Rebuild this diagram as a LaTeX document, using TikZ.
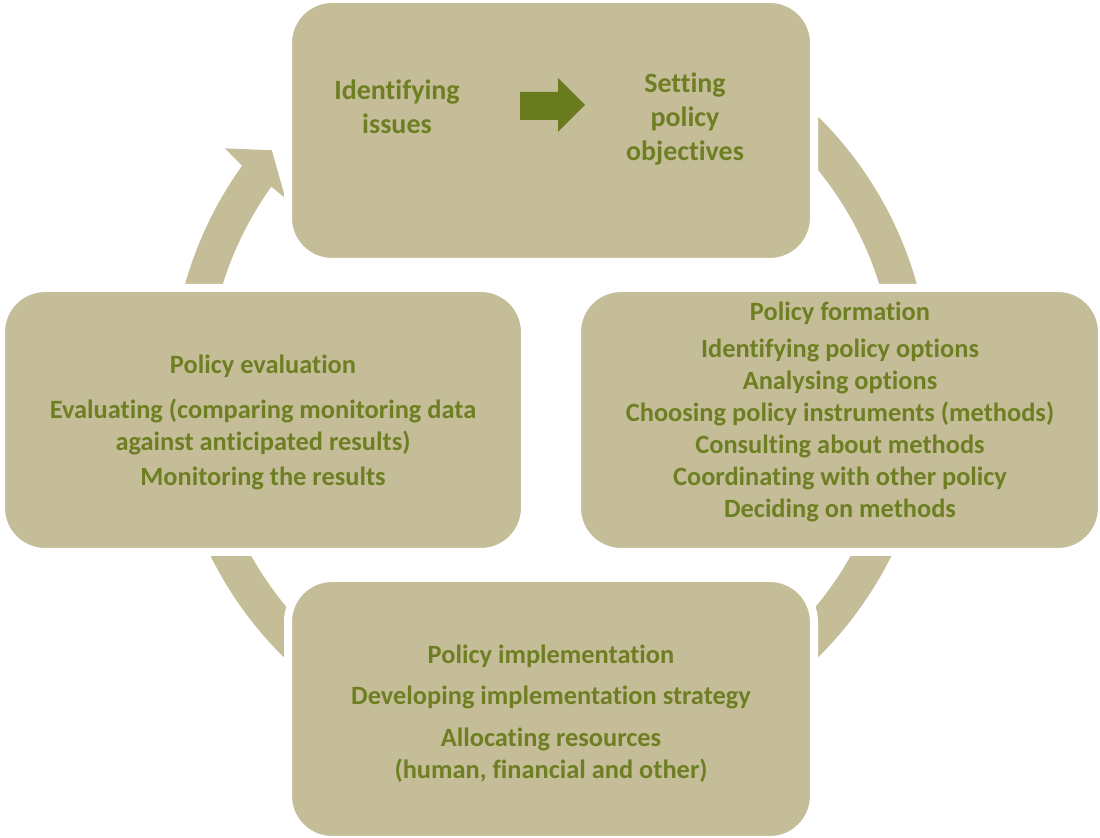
\documentclass[tikz,border=0pt]{standalone}
\usepackage{fontspec}
\setmainfont{Carlito}[RawFeature=-liga, RawFeature=-clig, RawFeature=-calt, RawFeature=-rlig, RawFeature=-dlig]
\usetikzlibrary{positioning}

\definecolor{stagefill}{HTML}{C4BD97}
\definecolor{stagetext}{HTML}{6E7F23}
\definecolor{stagearrow}{HTML}{6A7A1E}

\begin{document}
\begin{tikzpicture}[x=0.5pt, y=0.5pt,
    stage/.style={fill=stagefill, draw=white, line width=4pt, rounded corners=22pt, inner sep=0pt},
    stagelabel/.style={text=stagetext, align=center, font=\bfseries\fontsize{13.2}{16}\selectfont},
    toplabel/.style={stagelabel, font=\bfseries\fontsize{14}{17}\selectfont}]
  \useasboundingbox (0,0) rectangle (1100,838);

  % Cycle arrow, drawn first so the boxes sit on top of it
  \coordinate (hub) at (551,451);
  \fill[stagefill, shift={(hub)}]
      (144.4:380) arc[start angle=144.4, end angle=464, radius=380]
      -- (464:344) arc[start angle=464, end angle=144.4, radius=344]
      -- (144.6:326) -- (139.7:366) -- (143.8:404) -- cycle;

  % Stage boxes
  \node (define) [stage, minimum width=263pt, minimum height=131.5pt] at (551,707.5) {};
  \node (evaluate) [stage, minimum width=262pt, minimum height=132pt] at (263,418) {};
  \node (form) [stage, minimum width=262.5pt, minimum height=132pt] at (839.5,418) {};
  \node (implement) [stage, minimum width=263pt, minimum height=131pt] at (551,129) {};

  % Top box: issues -> objectives
  \node (issues) [toplabel] at (397,731) {Identifying\\issues};
  \node (objectives) [toplabel] at (685,719) {Setting\\policy\\objectives};
  \fill[stagearrow] (520,746) -- (558,746) -- (558,760) -- (585,733)
      -- (558,706) -- (558,718) -- (520,718) -- cycle;

  % Stage texts
  \node (evaltext) [stagelabel] at (263,416) {Policy evaluation\\[6.5pt]
      Evaluating (comparing monitoring data\\against anticipated results)\\[1.5pt]
      Monitoring the results};
  \node (formtext) [stagelabel] at (840,426.5) {Policy formation\\[2.5pt]
      Identifying policy options\\Analysing options\\
      Choosing policy instruments (methods)\\Consulting about methods\\
      Coordinating with other policy\\Deciding on methods};
  \node (impltext) [stagelabel] at (551,124) {Policy implementation\\[4.5pt]
      Developing implementation strategy\\[5pt]
      Allocating resources\\(human, financial and other)};
\end{tikzpicture}
\end{document}
